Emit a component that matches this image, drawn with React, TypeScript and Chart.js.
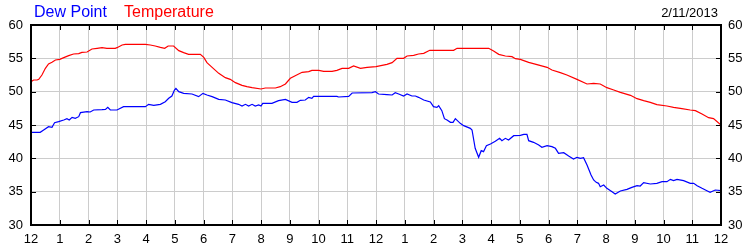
import React, { useEffect, useRef } from "react";
import { Chart, registerables } from "chart.js";

Chart.register(...registerables);

const tempHours = [0.0,0.09,0.21,0.27,0.38,0.5,0.61,0.73,0.85,1.0,1.14,1.31,1.48,1.66,1.77,1.95,2.12,2.3,2.47,2.64,2.93,2.99,3.17,3.28,3.98,4.15,4.32,4.5,4.65,4.77,4.96,5.14,5.31,5.48,5.89,6.01,6.12,6.3,6.53,6.76,6.93,7.11,7.34,7.51,7.69,8.0,8.15,8.5,8.67,8.85,9.02,9.19,9.43,9.66,9.77,10.01,10.18,10.47,10.64,10.82,11.05,11.22,11.46,11.69,12.0,12.38,12.56,12.73,12.96,13.08,13.31,13.48,13.66,13.87,14.7,14.82,15.92,16.09,16.27,16.5,16.73,16.85,17.02,17.31,17.6,17.95,18.12,18.41,18.64,18.99,19.34,19.57,19.8,20.03,20.27,20.5,20.85,21.08,21.31,21.54,21.77,22.12,22.35,22.64,22.93,23.11,23.34,23.57,23.74,24.0];
const tempValues = [51.5,51.75,51.75,51.85,52.5,53.5,54.15,54.4,54.75,54.85,55.1,55.4,55.65,55.7,55.9,55.95,56.4,56.5,56.6,56.5,56.5,56.6,57.0,57.1,57.1,57.0,56.85,56.65,56.5,56.85,56.85,56.15,55.85,55.6,55.6,55.15,54.35,53.65,52.75,52.1,51.85,51.35,50.95,50.75,50.6,50.4,50.55,50.55,50.75,51.15,52.0,52.4,52.9,53.0,53.2,53.2,53.05,53.05,53.2,53.5,53.5,53.85,53.5,53.65,53.75,54.1,54.35,55.0,55.0,55.35,55.45,55.65,55.75,56.2,56.2,56.5,56.5,56.1,55.6,55.35,55.25,54.95,54.85,54.4,54.05,53.65,53.25,52.85,52.5,51.85,51.15,51.25,51.15,50.6,50.25,49.9,49.45,48.95,48.65,48.4,48.05,47.85,47.65,47.45,47.25,47.15,46.65,46.1,45.95,45.0];

const dewHours = [0.0,0.32,0.44,0.61,0.73,0.82,0.96,1.14,1.25,1.33,1.43,1.54,1.66,1.72,1.95,2.06,2.18,2.47,2.59,2.67,2.76,2.99,3.22,3.98,4.09,4.27,4.5,4.67,4.79,4.9,4.99,5.04,5.14,5.31,5.6,5.83,5.98,6.12,6.3,6.53,6.76,6.99,7.22,7.34,7.46,7.57,7.69,7.8,7.92,8.0,8.06,8.38,8.61,8.85,9.08,9.25,9.37,9.54,9.66,9.77,9.83,10.64,10.7,11.05,11.17,11.86,11.98,12.09,12.38,12.56,12.67,12.79,12.96,13.08,13.25,13.37,13.48,13.66,13.89,14.0,14.12,14.18,14.29,14.38,14.47,14.59,14.68,14.76,14.93,15.05,15.28,15.34,15.45,15.57,15.66,15.74,15.84,15.98,16.15,16.3,16.38,16.5,16.61,16.79,17.02,17.14,17.25,17.31,17.48,17.66,17.77,17.95,18.12,18.24,18.35,18.53,18.7,18.87,18.99,19.11,19.22,19.34,19.48,19.57,19.66,19.74,19.8,19.92,20.03,20.21,20.32,20.5,20.73,20.9,21.08,21.19,21.31,21.54,21.77,21.95,22.12,22.24,22.35,22.47,22.7,22.93,23.05,23.17,23.34,23.51,23.62,23.8,24.0];
const dewValues = [43.9,43.9,44.25,44.75,44.65,45.35,45.5,45.75,45.95,45.75,46.15,46.0,46.25,46.85,47.0,46.95,47.25,47.3,47.35,47.65,47.25,47.25,47.75,47.75,48.1,47.95,48.1,48.5,49.0,49.35,50.25,50.5,50.0,49.75,49.65,49.25,49.75,49.5,49.25,48.85,48.75,48.35,48.1,47.85,48.1,47.85,48.1,47.85,48.0,47.85,48.25,48.25,48.65,48.85,48.4,48.4,48.7,48.75,49.15,49.0,49.3,49.3,49.2,49.3,49.8,49.85,50.0,49.65,49.55,49.5,49.85,49.65,49.35,49.65,49.35,49.35,49.15,48.75,48.45,47.75,47.65,47.9,47.15,45.95,45.75,45.4,45.4,45.95,45.25,44.9,44.5,44.25,41.5,40.15,41.15,41.0,41.9,42.15,42.55,43.0,42.65,43.0,42.75,43.4,43.45,43.6,43.6,42.65,42.4,42.0,41.65,41.9,41.75,41.5,40.75,40.85,40.35,39.9,40.15,40.0,40.1,39.0,37.5,36.75,36.4,36.25,35.75,36.0,35.5,35.0,34.65,35.1,35.35,35.65,35.9,35.85,36.35,36.15,36.25,36.5,36.5,36.85,36.65,36.85,36.65,36.25,36.25,35.9,35.5,35.15,34.9,35.25,35.15];

const hourTicks = [0,1,2,3,4,5,6,7,8,9,10,11,12,13,14,15,16,17,18,19,20,21,22,23,24];
const hourLabels = ["12","1","2","3","4","5","6","7","8","9","10","11","12","1","2","3","4","5","6","7","8","9","10","11","12"];
const yTicks = [30,35,40,45,50,55,60];
const legendNames = ["Dew Point", "Temperature"];
const dateLabel = "2/11/2013";

const FONT = "'Liberation Sans', Arial, sans-serif";

export default function App() {
  const ref = useRef<HTMLCanvasElement | null>(null);
  useEffect(() => {
    if (!ref.current) return;
    const overlay = {
      id: "overlay",
      afterDraw(chart: any) {
        const ctx = chart.ctx;
        const a = chart.chartArea;
        const xs = chart.scales.x;
        const ys = chart.scales.y;
        ctx.save();
        ctx.strokeStyle = "#000";
        ctx.lineWidth = 1;
        ctx.beginPath();
        hourTicks.forEach((h) => {
          const px = Math.round(xs.getPixelForValue(h)) + 0.5;
          ctx.moveTo(px, a.bottom);
          ctx.lineTo(px, a.bottom - 5);
          ctx.moveTo(px, a.top);
          ctx.lineTo(px, a.top + 5);
        });
        yTicks.forEach((v) => {
          const py = Math.round(ys.getPixelForValue(v)) + 0.5;
          ctx.moveTo(a.left, py);
          ctx.lineTo(a.left + 5, py);
          ctx.moveTo(a.right, py);
          ctx.lineTo(a.right - 5, py);
        });
        ctx.stroke();
        ctx.lineWidth = 2;
        ctx.strokeRect(a.left, a.top, a.right - a.left, a.bottom - a.top);
        ctx.font = "16px " + FONT;
        ctx.textBaseline = "alphabetic";
        ctx.textAlign = "left";
        ctx.fillStyle = "#0000ff";
        ctx.fillText(legendNames[0], 34, 17);
        ctx.fillStyle = "#ff0000";
        ctx.fillText(legendNames[1], 124, 17);
        ctx.font = "13px " + FONT;
        ctx.fillStyle = "#000";
        ctx.textAlign = "right";
        ctx.fillText(dateLabel, 718, 17);
        ctx.restore();
      },
    };
    const chart = new Chart(ref.current, {
      type: "line",
      data: {
        datasets: [
          {
            label: legendNames[1],
            data: tempHours.map((h, i) => ({ x: h, y: tempValues[i] })),
            borderColor: "#ff0000",
            borderWidth: 1.2,
            pointRadius: 0,
            tension: 0,
            fill: false,
          },
          {
            label: legendNames[0],
            data: dewHours.map((h, i) => ({ x: h, y: dewValues[i] })),
            borderColor: "#0000ff",
            borderWidth: 1.2,
            pointRadius: 0,
            tension: 0,
            fill: false,
          },
        ],
      },
      options: {
        responsive: false,
        animation: false,
        layout: { padding: { top: 25, left: 0, right: 0, bottom: 0 } },
        plugins: { legend: { display: false }, tooltip: { enabled: false } },
        scales: {
          x: {
            type: "linear",
            position: "bottom",
            min: 0,
            max: 24,
            afterBuildTicks: (s: any) => {
              s.ticks = hourTicks.map((v) => ({ value: v }));
            },
            afterFit: (s: any) => {
              s.height = 25;
            },
            grid: { color: "#cccccc", drawTicks: false, lineWidth: 1 },
            border: { display: false },
            ticks: {
              autoSkip: false,
              maxRotation: 0,
              padding: 7,
              color: "#000",
              font: { family: FONT, size: 13 },
              callback: (v: any) => hourLabels[hourTicks.indexOf(Number(v))] ?? "",
            },
          },
          y: {
            type: "linear",
            position: "left",
            min: 30,
            max: 60,
            afterBuildTicks: (s: any) => {
              s.ticks = yTicks.map((v) => ({ value: v }));
            },
            afterFit: (s: any) => {
              s.width = 31;
            },
            grid: { color: "#cccccc", drawTicks: false, lineWidth: 1 },
            border: { display: false },
            ticks: { padding: 8, color: "#000", font: { family: FONT, size: 13 } },
          },
          y2: {
            type: "linear",
            position: "right",
            min: 30,
            max: 60,
            afterBuildTicks: (s: any) => {
              s.ticks = yTicks.map((v) => ({ value: v }));
            },
            afterFit: (s: any) => {
              s.width = 29;
            },
            grid: { display: false, drawTicks: false },
            border: { display: false },
            ticks: { padding: 7, color: "#000", font: { family: FONT, size: 13 } },
          },
        },
      },
      plugins: [overlay],
    });
    return () => chart.destroy();
  }, []);
  return (
    <div style={{ position: "absolute", left: 0, top: 0, width: 750, height: 250, background: "#fff" }}>
      <canvas ref={ref} width={750} height={250} style={{ display: "block" }} />
    </div>
  );
}
